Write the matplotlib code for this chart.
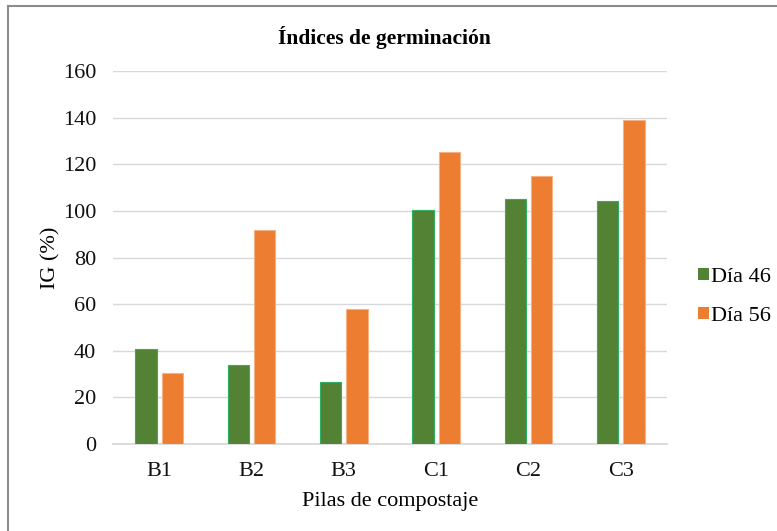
import numpy as np
import matplotlib.pyplot as plt
from matplotlib.lines import Line2D

# datos
pilas = ['B1', 'B2', 'B3', 'C1', 'C2', 'C3']
dia46 = [40.6, 33.9, 26.6, 100.4, 105.1, 104.2]
dia56 = [30.5, 91.9, 57.8, 125.1, 115.0, 138.9]

verde = '#548235'
naranja = '#ED7D31'

plt.rcParams['font.family'] = ['Liberation Serif', 'DejaVu Serif']

fig = plt.figure(figsize=(7.77, 5.31), dpi=100)
ax = fig.add_axes([0.1454, 0.1638, 0.713, 0.7025])

x = np.arange(len(pilas))
w = 0.233
off = 0.143
ax.bar(x - off, dia46, width=w, color=verde, edgecolor='#2EB060', linewidth=0.8, label='Día 46', zorder=3)
ax.bar(x + off, dia56, width=w, color=naranja, edgecolor='#F4B183', linewidth=0.8, label='Día 56', zorder=3)

ax.set_xlim(-0.5, len(pilas) - 0.5)
ax.set_ylim(0, 160)
ax.set_yticks(np.arange(0, 161, 20))
ax.set_xticks(x)
ax.set_xticklabels(pilas)
ax.tick_params(axis='both', length=0, labelsize=16, colors='#111111')
ax.tick_params(axis='y', pad=12)
ax.tick_params(axis='x', pad=13)

ax.grid(axis='y', color='#D9D9D9', linewidth=1, zorder=0)
for s in ['top', 'right', 'left']:
    ax.spines[s].set_visible(False)
ax.spines['bottom'].set_color('#D9D9D9')
ax.spines['bottom'].set_linewidth(1.3)

ax.set_xlabel('Pilas de compostaje', fontsize=16, labelpad=8)
ax.set_ylabel('IG (%)', fontsize=16, labelpad=2)
fig.text(0.495, 0.93, 'Índices de germinación', ha='center', va='center', fontsize=15.5, fontweight='bold')

# leyenda a la derecha
leg = fig.legend(loc='center left', bbox_to_anchor=(0.8726, 0.441), frameon=False,
                 prop={'family': 'Liberation Serif', 'size': 16},
                 handlelength=0.5, handleheight=0.5, handletextpad=0.1, labelspacing=0.9)
for h in leg.legend_handles:
    h.set_linewidth(0)

# marco (solo izquierda y arriba, la imagen esta recortada)
fig.add_artist(Line2D([8 / 777, 8 / 777], [0, 1 - 6 / 531], transform=fig.transFigure, color='#8C8C8C', linewidth=1.5))
fig.add_artist(Line2D([8 / 777, 1], [1 - 6 / 531, 1 - 6 / 531], transform=fig.transFigure, color='#8C8C8C', linewidth=1.5))

fig.savefig('out.png', dpi=100)
